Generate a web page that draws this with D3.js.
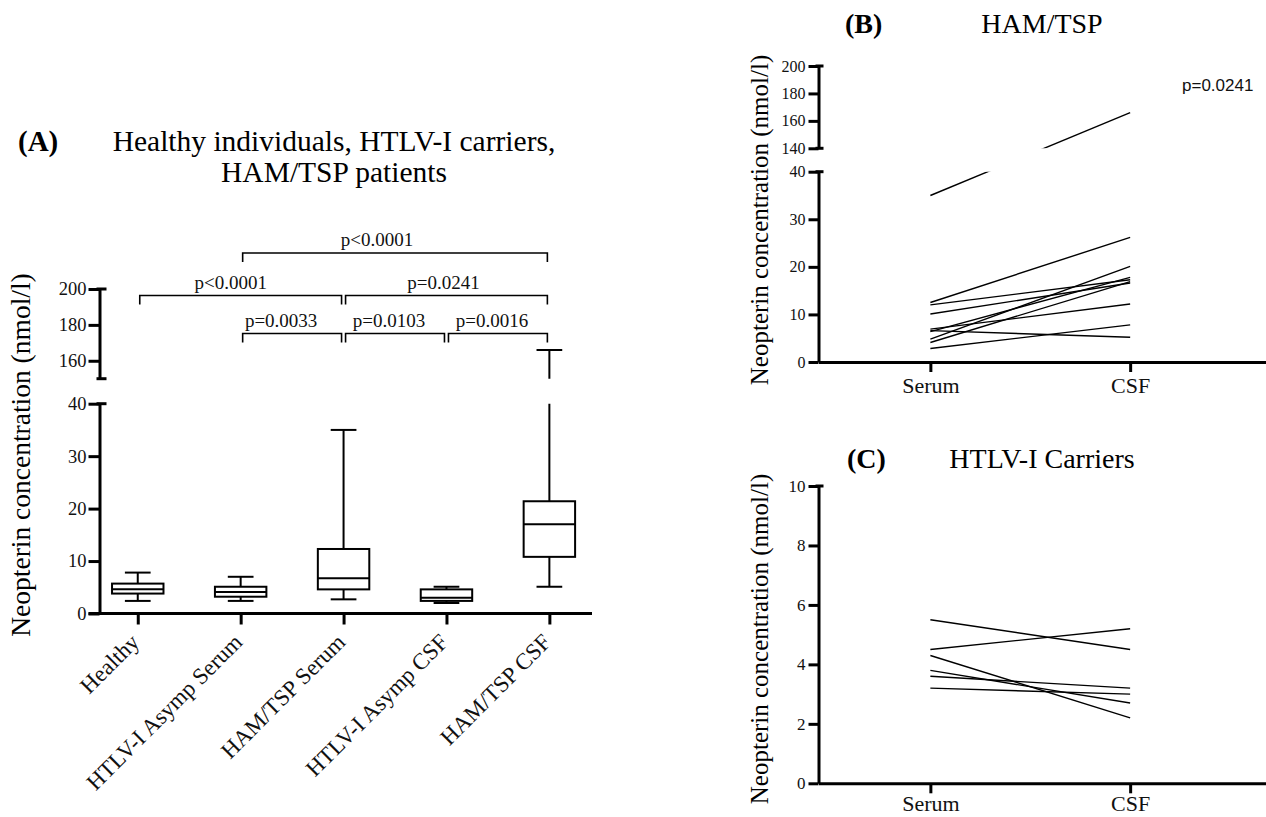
<!DOCTYPE html>
<html>
<head>
<meta charset="utf-8">
<script src="https://cdn.jsdelivr.net/npm/d3@7"></script>
<style>
  body { margin: 0; background: #fff; }
  svg { display: block; }
</style>
</head>
<body>
<svg id="chart" width="1266" height="817"></svg>
<script>
// ---- data (nmol/l) ----

// (A) box plots
const groupsA = ['Healthy', 'HTLV-I Asymp Serum', 'HAM/TSP Serum', 'HTLV-I Asymp CSF', 'HAM/TSP CSF'];
const boxMin    = [2.4, 2.4, 2.7, 2.0, 5.1];
const boxQ1     = [3.8, 3.2, 4.6, 2.4, 10.8];
const boxMedian = [4.6, 4.1, 6.7, 3.0, 17.0];
const boxQ3     = [5.7, 5.1, 12.3, 4.6, 21.4];
const boxMax    = [7.8, 7.0, 35.0, 5.1, 166];

const compFrom   = ['HTLV-I Asymp Serum', 'Healthy', 'HAM/TSP Serum', 'HTLV-I Asymp Serum', 'HAM/TSP Serum', 'HTLV-I Asymp CSF'];
const compTo     = ['HAM/TSP CSF', 'HAM/TSP Serum', 'HAM/TSP CSF', 'HAM/TSP Serum', 'HTLV-I Asymp CSF', 'HAM/TSP CSF'];
const compLabel  = ['p<0.0001', 'p<0.0001', 'p=0.0241', 'p=0.0033', 'p=0.0103', 'p=0.0016'];
const compLevel  = [0, 1, 1, 2, 2, 2];

// (B) HAM/TSP paired serum / CSF
const pairCats = ['Serum', 'CSF'];
const hamSerum = [35, 12.5, 12.0, 10.1, 6.9, 6.6, 6.4, 4.8, 4.1, 2.85];
const hamCSF   = [166, 26.2, 17.3, 16.6, 12.2, 5.2, 17.8, 20.1, 16.9, 7.8];

// (C) HTLV-I carriers paired serum / CSF
const carrierSerum = [5.5, 4.5, 4.3, 3.8, 3.6, 3.2];
const carrierCSF   = [4.5, 5.2, 2.2, 2.7, 3.2, 3.0];

const yTitle = 'Neopterin concentration (nmol/l)';

// ---- drawing ----
const serif = '"Liberation Serif", "Times New Roman", serif';
const sans = '"Liberation Sans", Arial, sans-serif';
const svg = d3.select('#chart');

function styleAxis(g, fontSize) {
  g.select('.domain').attr('stroke-width', 3).attr('stroke', '#000');
  g.selectAll('.tick line').attr('stroke-width', 3).attr('stroke', '#000');
  g.selectAll('.tick text').attr('font-family', serif).attr('font-size', fontSize).attr('fill', '#111');
}

function clipRect(id, y0, y1) {
  svg.append('clipPath').attr('id', id)
    .append('rect').attr('x', 0).attr('width', 1266).attr('y', y0).attr('height', y1 - y0);
  return `url(#${id})`;
}

// ===== panel A =====
const axA = 99.5;
const xA = d3.scalePoint().domain(groupsA).range([axA, 592]).padding(0.393).align(0.473);
const yA = d3.scaleLinear().domain([0, 40]).range([613.5, 403.7]);
const yAtop = d3.scaleLinear().domain([150, 200]).range([378.7, 289]);
const posA = v => v > 40 ? yAtop(v) : yA(v);

svg.append('text').attr('x', 18).attr('y', 151).attr('font-family', serif)
  .attr('font-size', 29).attr('font-weight', 'bold').text('(A)');
svg.append('text').attr('x', 334).attr('y', 151).attr('text-anchor', 'middle')
  .attr('font-family', serif).attr('font-size', 29.5).text('Healthy individuals, HTLV-I carriers,');
svg.append('text').attr('x', 334).attr('y', 182).attr('text-anchor', 'middle')
  .attr('font-family', serif).attr('font-size', 29.5).text('HAM/TSP patients');

svg.append('text').attr('transform', 'translate(30,455) rotate(-90)').attr('text-anchor', 'middle')
  .attr('font-family', serif).attr('font-size', 27.5).text(yTitle);

const gyA = svg.append('g').attr('transform', `translate(${axA},0)`)
  .call(d3.axisLeft(yA).tickValues([0, 10, 20, 30, 40]).tickSize(11).tickPadding(2).tickSizeOuter(0));
styleAxis(gyA, 18.5);
const gyAt = svg.append('g').attr('transform', `translate(${axA},0)`)
  .call(d3.axisLeft(yAtop).tickValues([160, 180, 200]).tickSize(11).tickPadding(2).tickSizeOuter(0));
styleAxis(gyAt, 18.5);
[yAtop(150), yA(40), yAtop(200)].forEach(y => {
  svg.append('line').attr('x1', axA - 3).attr('x2', axA + 7).attr('y1', y).attr('y2', y)
    .attr('stroke', '#000').attr('stroke-width', 3);
});

const gxA = svg.append('g').attr('transform', `translate(0,${yA(0)})`)
  .call(d3.axisBottom(xA).tickSize(11).tickSizeOuter(0).tickFormat(''));
styleAxis(gxA, 20);
gxA.select('.domain').attr('d', `M${axA - 11},0H592`);

svg.append('g').selectAll('text').data(groupsA).join('text')
  .attr('transform', d => `translate(${xA(d) + 3},${yA(0) + 30}) rotate(-45)`)
  .attr('text-anchor', 'end').attr('font-family', serif).attr('font-size', 23).attr('fill', '#111')
  .text(d => d);

const boxes = groupsA.map((g, i) => ({
  g, min: boxMin[i], q1: boxQ1[i], med: boxMedian[i], q3: boxQ3[i], max: boxMax[i]
}));
const boxW = xA.step() * 0.5;
const capW = boxW / 2;
const gBox = svg.append('g').attr('stroke', '#000').attr('stroke-width', 2).attr('fill', 'none');

const clipLowA = clipRect('clipLowA', yA(40), yA(0) + 20);
const clipHighA = clipRect('clipHighA', 0, yAtop(150));
[clipLowA, clipHighA].forEach(cp => {
  const gw = gBox.append('g').attr('clip-path', cp);
  gw.selectAll('.wu').data(boxes).join('line').attr('class', 'wu')
    .attr('x1', d => xA(d.g)).attr('x2', d => xA(d.g))
    .attr('y1', d => posA(d.q3)).attr('y2', d => posA(d.max));
});
gBox.selectAll('.wl').data(boxes).join('line').attr('class', 'wl')
  .attr('x1', d => xA(d.g)).attr('x2', d => xA(d.g))
  .attr('y1', d => posA(d.q1)).attr('y2', d => posA(d.min));
gBox.selectAll('.cap').data(boxes.flatMap(d => [{ g: d.g, v: d.min }, { g: d.g, v: d.max }]))
  .join('line').attr('class', 'cap')
  .attr('x1', d => xA(d.g) - capW / 2).attr('x2', d => xA(d.g) + capW / 2)
  .attr('y1', d => posA(d.v)).attr('y2', d => posA(d.v));
gBox.selectAll('rect').data(boxes).join('rect')
  .attr('x', d => xA(d.g) - boxW / 2).attr('width', boxW)
  .attr('y', d => posA(d.q3)).attr('height', d => posA(d.q1) - posA(d.q3))
  .attr('fill', '#fff');
gBox.selectAll('.med').data(boxes).join('line').attr('class', 'med')
  .attr('x1', d => xA(d.g) - boxW / 2).attr('x2', d => xA(d.g) + boxW / 2)
  .attr('y1', d => posA(d.med)).attr('y2', d => posA(d.med));

// significance brackets
const levelY = [253, 295.5, 333.5];
const labelShift = [-18, -10, -3, -11, -6, -6];
const comps = compLabel.map((l, i) => ({
  x1: xA(compFrom[i]) + 2, x2: xA(compTo[i]) - 2, y: levelY[compLevel[i]], label: l, dx: labelShift[i]
}));
const gBr = svg.append('g');
gBr.selectAll('path').data(comps).join('path')
  .attr('d', d => `M${d.x1},${d.y + 9}V${d.y}H${d.x2}V${d.y + 9}`)
  .attr('fill', 'none').attr('stroke', '#000').attr('stroke-width', 1.6);
gBr.selectAll('text').data(comps).join('text')
  .attr('x', d => (d.x1 + d.x2) / 2 + d.dx).attr('y', d => d.y - 7)
  .attr('text-anchor', 'middle').attr('font-family', serif).attr('font-size', 19).attr('fill', '#111')
  .text(d => d.label);

// ===== panel B =====
const axB = 818.5;
const xB = d3.scalePoint().domain(pairCats).range([axB, 1266]).padding(0.62).align(0.4516);
const yB = d3.scaleLinear().domain([0, 40]).range([362, 171.7]);
const yBtop = d3.scaleLinear().domain([140, 200]).range([148.3, 66]);
const posB = v => v > 40 ? yBtop(v) : yB(v);

svg.append('text').attr('x', 845).attr('y', 33).attr('font-family', serif)
  .attr('font-size', 28).attr('font-weight', 'bold').text('(B)');
svg.append('text').attr('x', 1042).attr('y', 33).attr('text-anchor', 'middle')
  .attr('font-family', serif).attr('font-size', 28).text('HAM/TSP');
svg.append('text').attr('transform', 'translate(768,220) rotate(-90)').attr('text-anchor', 'middle')
  .attr('font-family', serif).attr('font-size', 25).text(yTitle);

const gyB = svg.append('g').attr('transform', `translate(${axB},0)`)
  .call(d3.axisLeft(yB).tickValues([0, 10, 20, 30, 40]).tickSize(10).tickPadding(3).tickSizeOuter(0));
styleAxis(gyB, 16);
const gyBt = svg.append('g').attr('transform', `translate(${axB},0)`)
  .call(d3.axisLeft(yBtop).tickValues([140, 160, 180, 200]).tickSize(10).tickPadding(3).tickSizeOuter(0));
styleAxis(gyBt, 16);
[yBtop(140), yB(40), yBtop(200)].forEach(y => {
  svg.append('line').attr('x1', axB - 3).attr('x2', axB + 5).attr('y1', y).attr('y2', y)
    .attr('stroke', '#000').attr('stroke-width', 3);
});
const gxB = svg.append('g').attr('transform', `translate(0,${yB(0)})`)
  .call(d3.axisBottom(xB).tickSize(10).tickPadding(5).tickSizeOuter(0));
styleAxis(gxB, 22);

const pairsB = hamSerum.map((s, i) => [s, hamCSF[i]]);
const clipLowB = clipRect('clipLowB', yB(40), yB(0) + 10);
const clipHighB = clipRect('clipHighB', 0, yBtop(140));
[clipLowB, clipHighB].forEach(cp => {
  svg.append('g').attr('clip-path', cp).selectAll('line').data(pairsB).join('line')
    .attr('x1', xB('Serum')).attr('x2', xB('CSF'))
    .attr('y1', d => posB(d[0])).attr('y2', d => posB(d[1]))
    .attr('stroke', '#000').attr('stroke-width', 1.4);
});
svg.append('text').attr('x', 1182).attr('y', 91).attr('font-family', sans)
  .attr('font-size', 17).attr('fill', '#111').text('p=0.0241');

// ===== panel C =====
const axC = 818.5;
const xC = d3.scalePoint().domain(pairCats).range([axC, 1266]).padding(0.62).align(0.4516);
const yC = d3.scaleLinear().domain([0, 10]).range([783.3, 486]);

svg.append('text').attr('x', 847).attr('y', 468).attr('font-family', serif)
  .attr('font-size', 28).attr('font-weight', 'bold').text('(C)');
svg.append('text').attr('x', 1042).attr('y', 468).attr('text-anchor', 'middle')
  .attr('font-family', serif).attr('font-size', 28).text('HTLV-I Carriers');
svg.append('text').attr('transform', 'translate(768,639) rotate(-90)').attr('text-anchor', 'middle')
  .attr('font-family', serif).attr('font-size', 25).text(yTitle);

const gyC = svg.append('g').attr('transform', `translate(${axC},0)`)
  .call(d3.axisLeft(yC).tickValues([0, 2, 4, 6, 8, 10]).tickSize(10).tickPadding(3).tickSizeOuter(0));
styleAxis(gyC, 17);
svg.append('line').attr('x1', axC - 3).attr('x2', axC + 5).attr('y1', yC(10)).attr('y2', yC(10))
  .attr('stroke', '#000').attr('stroke-width', 3);
const gxC = svg.append('g').attr('transform', `translate(0,${yC(0)})`)
  .call(d3.axisBottom(xC).tickSize(10).tickPadding(2).tickSizeOuter(0));
styleAxis(gxC, 22);

svg.append('g').selectAll('line').data(carrierSerum.map((s, i) => [s, carrierCSF[i]])).join('line')
  .attr('x1', xC('Serum')).attr('x2', xC('CSF'))
  .attr('y1', d => yC(d[0])).attr('y2', d => yC(d[1]))
  .attr('stroke', '#000').attr('stroke-width', 1.4);
</script>
</body>
</html>
